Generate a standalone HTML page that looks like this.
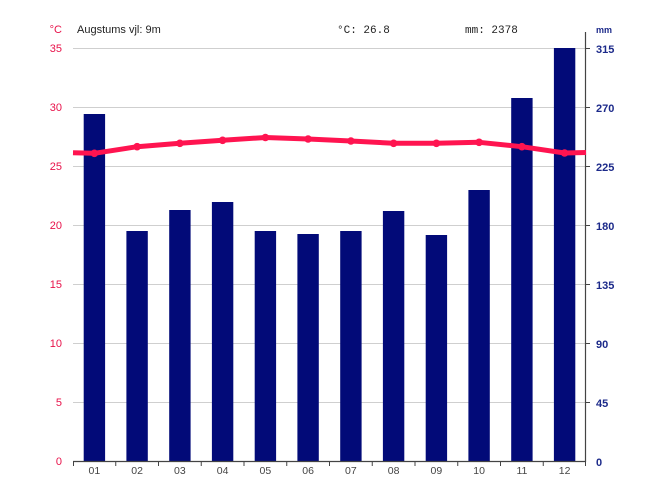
<!DOCTYPE html>
<html><head><meta charset="utf-8"><style>
html,body{margin:0;padding:0;background:#fff;}
svg{display:block;}
</style></head><body>
<svg width="658" height="493" viewBox="0 0 658 493" xmlns="http://www.w3.org/2000/svg">
<rect width="658" height="493" fill="#fff"/>
<!-- gridlines -->
<g stroke="#cfcfcf" stroke-width="1">
<line x1="73" y1="48.5" x2="586" y2="48.5"/>
<line x1="73" y1="107.5" x2="586" y2="107.5"/>
<line x1="73" y1="166.5" x2="586" y2="166.5"/>
<line x1="73" y1="225.5" x2="586" y2="225.5"/>
<line x1="73" y1="284.5" x2="586" y2="284.5"/>
<line x1="73" y1="343.5" x2="586" y2="343.5"/>
<line x1="73" y1="402.5" x2="586" y2="402.5"/>
</g>
<!-- bars -->
<g fill="#020a78">
<rect x="83.7" y="114" width="21.4" height="347"/>
<rect x="126.4" y="231" width="21.4" height="230"/>
<rect x="169.2" y="210" width="21.4" height="251"/>
<rect x="211.9" y="202" width="21.4" height="259"/>
<rect x="254.7" y="231" width="21.4" height="230"/>
<rect x="297.4" y="234" width="21.4" height="227"/>
<rect x="340.2" y="231" width="21.4" height="230"/>
<rect x="382.9" y="211" width="21.4" height="250"/>
<rect x="425.7" y="235" width="21.4" height="226"/>
<rect x="468.4" y="190" width="21.4" height="271"/>
<rect x="511.2" y="98" width="21.4" height="363"/>
<rect x="553.9" y="48" width="21.4" height="413"/>
</g>
<!-- axes -->
<line x1="73" y1="461.5" x2="586" y2="461.5" stroke="#444" stroke-width="1.2"/>
<line x1="585.5" y1="32" x2="585.5" y2="462" stroke="#444" stroke-width="1.2"/>
<g stroke="#444" stroke-width="1">
<line x1="73.5" y1="461" x2="73.5" y2="466"/>
<line x1="115.75" y1="461" x2="115.75" y2="466"/>
<line x1="158.5" y1="461" x2="158.5" y2="466"/>
<line x1="201.25" y1="461" x2="201.25" y2="466"/>
<line x1="244" y1="461" x2="244" y2="466"/>
<line x1="286.75" y1="461" x2="286.75" y2="466"/>
<line x1="329.5" y1="461" x2="329.5" y2="466"/>
<line x1="372.25" y1="461" x2="372.25" y2="466"/>
<line x1="415" y1="461" x2="415" y2="466"/>
<line x1="457.75" y1="461" x2="457.75" y2="466"/>
<line x1="500.5" y1="461" x2="500.5" y2="466"/>
<line x1="543.25" y1="461" x2="543.25" y2="466"/>
<line x1="585.5" y1="461" x2="585.5" y2="466"/>
<line x1="585" y1="48.5" x2="590" y2="48.5"/>
<line x1="585" y1="107.5" x2="590" y2="107.5"/>
<line x1="585" y1="166.5" x2="590" y2="166.5"/>
<line x1="585" y1="225.5" x2="590" y2="225.5"/>
<line x1="585" y1="284.5" x2="590" y2="284.5"/>
<line x1="585" y1="343.5" x2="590" y2="343.5"/>
<line x1="585" y1="402.5" x2="590" y2="402.5"/>
</g>
<!-- temperature line -->
<polyline fill="none" stroke="#ff1450" stroke-width="5" stroke-linejoin="round"
points="73,152.7 94.4,153.3 137.1,146.7 179.9,143.3 222.6,140.3 265.4,137.5 308.1,139 350.9,141 393.6,143.3 436.4,143.3 479.1,142.3 521.9,146.7 564.6,153 586,152.5"/>
<g fill="#ff1450">
<circle cx="94.4" cy="153.3" r="3.8"/>
<circle cx="137.1" cy="146.7" r="3.8"/>
<circle cx="179.9" cy="143.3" r="3.8"/>
<circle cx="222.6" cy="140.3" r="3.8"/>
<circle cx="265.4" cy="137.5" r="3.8"/>
<circle cx="308.1" cy="139" r="3.8"/>
<circle cx="350.9" cy="141" r="3.8"/>
<circle cx="393.6" cy="143.3" r="3.8"/>
<circle cx="436.4" cy="143.3" r="3.8"/>
<circle cx="479.1" cy="142.3" r="3.8"/>
<circle cx="521.9" cy="146.7" r="3.8"/>
<circle cx="564.6" cy="153" r="3.8"/>
</g>
<!-- left labels -->
<g font-family="Liberation Sans, sans-serif" font-size="11" fill="#e8124a" text-anchor="end">
<text x="62" y="33">°C</text>
<text x="62" y="52">35</text>
<text x="62" y="111">30</text>
<text x="62" y="170">25</text>
<text x="62" y="229">20</text>
<text x="62" y="288">15</text>
<text x="62" y="347">10</text>
<text x="62" y="406">5</text>
<text x="62" y="465">0</text>
</g>
<!-- right labels -->
<g font-family="Liberation Sans, sans-serif" font-size="11" fill="#1c2a8a" font-weight="bold">
<text x="596" y="33" font-size="9">mm</text>
<text x="596" y="53">315</text>
<text x="596" y="112">270</text>
<text x="596" y="171">225</text>
<text x="596" y="230">180</text>
<text x="596" y="289">135</text>
<text x="596" y="348">90</text>
<text x="596" y="407">45</text>
<text x="596" y="466">0</text>
</g>
<!-- x labels -->
<g font-family="Liberation Sans, sans-serif" font-size="10.5" fill="#444" text-anchor="middle">
<text x="94.4" y="474">01</text>
<text x="137.1" y="474">02</text>
<text x="179.9" y="474">03</text>
<text x="222.6" y="474">04</text>
<text x="265.4" y="474">05</text>
<text x="308.1" y="474">06</text>
<text x="350.9" y="474">07</text>
<text x="393.6" y="474">08</text>
<text x="436.4" y="474">09</text>
<text x="479.1" y="474">10</text>
<text x="521.9" y="474">11</text>
<text x="564.6" y="474">12</text>
</g>
<!-- header -->
<text x="77" y="33" font-family="Liberation Sans, sans-serif" font-size="11" fill="#222">Augstums vjl: 9m</text>
<text x="337" y="33" font-family="Liberation Mono, monospace" font-size="11" fill="#222">°C: 26.8</text>
<text x="465" y="33" font-family="Liberation Mono, monospace" font-size="11" fill="#222">mm: 2378</text>
</svg>
</body></html>
